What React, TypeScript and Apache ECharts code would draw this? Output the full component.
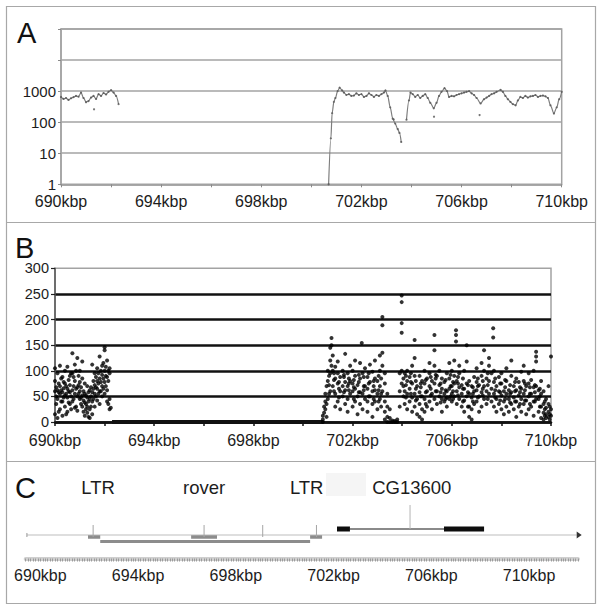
import React, { useEffect, useRef } from 'react';
import * as echarts from 'echarts';

const FONT = '"Liberation Sans", Arial, Helvetica, sans-serif';

// ---------- Panel A: read depth (log scale) ----------
const aLeftPos = [690.0, 690.1, 690.2, 690.3, 690.4, 690.5, 690.6, 690.7, 690.8, 690.9, 691.0, 691.1, 691.2, 691.3, 691.4, 691.5, 691.6, 691.7, 691.8, 691.9, 692.0, 692.1, 692.2, 692.3];
const aLeftVal = [650, 560, 600, 520, 590, 640, 700, 660, 900, 600, 440, 480, 620, 700, 560, 800, 700, 870, 780, 950, 1080, 900, 700, 380];

const aMidPos = [700.69, 700.78, 700.83, 700.9, 700.96, 701.05, 701.13, 701.23, 701.3, 701.4, 701.5, 701.6, 701.7, 701.8, 701.9, 702.0, 702.1, 702.2, 702.3, 702.4, 702.5, 702.6, 702.7, 702.8, 702.9, 702.96, 703.05, 703.15, 703.25, 703.35, 703.45, 703.52, 703.59];
const aMidVal = [1, 30, 195, 450, 600, 1000, 1300, 1050, 900, 750, 800, 700, 720, 850, 750, 800, 650, 700, 850, 750, 650, 750, 700, 800, 900, 1050, 700, 300, 130, 90, 60, 45, 23];

const aRightPos = [703.8, 703.9, 703.96, 704.05, 704.15, 704.25, 704.35, 704.45, 704.55, 704.65, 704.75, 704.89, 705.0, 705.1, 705.2, 705.32, 705.42, 705.5, 705.6, 705.7, 705.8, 705.9, 706.0, 706.1, 706.2, 706.3, 706.4, 706.5, 706.6, 706.76, 706.9, 707.0, 707.1, 707.2, 707.3, 707.4, 707.56, 707.65, 707.75, 707.85, 707.95, 708.05, 708.16, 708.25, 708.35, 708.45, 708.55, 708.65, 708.75, 708.85, 708.95, 709.05, 709.15, 709.25, 709.35, 709.45, 709.55, 709.69, 709.8, 709.9, 710.0];
const aRightVal = [120, 500, 900, 800, 650, 750, 600, 700, 800, 600, 420, 280, 420, 700, 950, 1250, 1000, 650, 700, 680, 750, 800, 850, 900, 950, 1000, 850, 750, 600, 400, 550, 620, 700, 800, 850, 950, 1100, 950, 700, 550, 450, 380, 350, 500, 650, 600, 700, 620, 680, 700, 750, 650, 700, 720, 680, 600, 350, 190, 300, 550, 950];

const aStrayPos = [691.32, 703.29, 704.9, 706.72];
const aStrayVal = [260, 123, 150, 170];

const aLogLabels = [1, 10, 100, 1000];
const kbpLabels = [690, 694, 698, 702, 706, 710];

// ---------- Panel B: coverage scatter, rows = [position, values...] ----------
const bLeft: number[][] = [
  [690.0, 15, 60, 80, 105], [690.1, 8, 45, 62, 95], [690.2, 25, 55, 70, 110], [690.3, 12, 40, 58, 88],
  [690.4, 30, 52, 75, 100], [690.5, 20, 48, 65, 108], [690.6, 35, 58, 72, 90], [690.7, 40, 62, 95, 134],
  [690.8, 28, 55, 80, 112], [690.9, 22, 50, 68, 125], [691.0, 45, 60, 78, 100], [691.1, 30, 52, 85, 118],
  [691.2, 12, 38, 55, 75], [691.3, 18, 30, 48, 70], [691.4, 8, 25, 45, 62], [691.5, 15, 40, 58, 112],
  [691.6, 30, 55, 72, 95], [691.7, 42, 65, 80, 105], [691.8, 35, 60, 85, 128], [691.9, 50, 70, 92, 110],
  [692.0, 55, 78, 100, 140, 146], [692.1, 40, 62, 88, 120], [692.2, 25, 45, 95, 105], [692.25, 28],
  [690.05, 35, 50, 68], [690.15, 20, 58, 75], [690.25, 40, 62, 85], [690.35, 48, 66, 78],
  [690.45, 15, 55, 70], [690.55, 38, 60, 82], [690.65, 25, 50, 95], [690.75, 45, 70, 88],
  [690.85, 30, 65, 100], [690.95, 55, 72, 90], [691.05, 35, 48, 68], [691.15, 20, 42, 60],
  [691.25, 25, 35, 52], [691.35, 10, 40, 58], [691.45, 30, 50, 68], [691.55, 45, 65, 80],
  [691.65, 50, 68, 88], [691.75, 55, 75, 95], [691.85, 60, 78, 100], [691.95, 65, 85, 115],
  [692.05, 70, 90, 108], [692.15, 35, 80, 100],
];
const bRight: number[][] = [
  [700.8, 0, 5, 12], [700.85, 18, 30], [700.9, 25, 40, 55], [700.95, 10, 35, 70], [701.0, 45, 80, 100],
  [701.1, 60, 95, 120, 145], [701.15, 110, 150, 164], [701.2, 70, 100, 130], [701.3, 30, 55, 85, 108],
  [701.4, 40, 75, 95, 118], [701.5, 25, 60, 88], [701.6, 50, 70, 100], [701.7, 35, 62, 78, 133],
  [701.8, 20, 45, 70, 95], [701.9, 55, 80, 110], [702.0, 30, 60, 75, 100], [702.1, 40, 65, 90, 120],
  [702.2, 15, 50, 72], [702.3, 35, 58, 85, 115], [702.37, 154], [702.4, 25, 55, 95], [702.5, 45, 70, 105],
  [702.6, 20, 40, 65, 88], [702.7, 50, 78, 112], [702.8, 10, 35, 60, 98], [702.9, 40, 62, 85, 120],
  [703.0, 25, 55, 80], [703.1, 45, 70, 100, 130], [703.2, 60, 110, 135, 189, 205], [703.3, 5, 20, 40, 75, 95],
  [703.4, 0, 10, 30, 55], [703.5, 0, 8, 25], [703.6, 0, 3], [703.7, 0, 2], [703.8, 0, 5],
  [703.9, 30, 60, 95], [703.98, 75, 100, 174, 193, 234, 247], [704.05, 50, 70, 85], [704.1, 35, 60, 95],
  [704.2, 25, 55, 80, 100], [704.3, 40, 65, 88], [704.4, 20, 48, 75, 110], [704.5, 30, 55, 90, 125, 160],
  [704.6, 15, 45, 70], [704.7, 10, 35, 58, 90], [704.8, 5, 25, 50, 80], [704.9, 20, 45, 75, 100],
  [705.0, 30, 60, 85], [705.1, 40, 70, 95, 115], [705.2, 25, 55, 80], [705.3, 45, 75, 110, 140, 170],
  [705.4, 35, 60, 90], [705.5, 50, 72, 100], [705.6, 20, 45, 65, 85], [705.7, 40, 55, 78],
  [705.8, 30, 48, 60, 95], [705.9, 45, 65, 85, 115], [706.0, 40, 55, 70, 100], [706.1, 50, 75, 90, 120],
  [706.17, 157, 170, 179], [706.2, 35, 60, 80], [706.3, 45, 68, 95, 110], [706.4, 30, 55, 72],
  [706.5, 20, 42, 65, 100], [706.6, 50, 75, 118, 150], [706.7, 10, 30, 55, 80], [706.8, 5, 25, 48, 70],
  [706.9, 35, 60, 88], [707.0, 40, 62, 78, 105], [707.1, 20, 50, 72], [707.2, 30, 58, 90, 115],
  [707.3, 45, 70, 100, 140], [707.4, 35, 60, 85], [707.5, 55, 80, 110, 125], [707.6, 40, 65, 95],
  [707.67, 165, 183], [707.7, 30, 55, 78, 100], [707.8, 20, 45, 70], [707.9, 35, 60, 88],
  [708.0, 25, 52, 75, 95], [708.1, 15, 40, 60], [708.2, 30, 55, 80, 105], [708.3, 20, 45, 62],
  [708.4, 35, 58, 90, 120], [708.5, 25, 48, 70], [708.6, 10, 40, 62, 85], [708.7, 30, 52, 78],
  [708.8, 20, 45, 65, 98], [708.9, 35, 55, 80, 110], [709.0, 15, 42, 70], [709.1, 25, 50, 75, 95],
  [709.2, 30, 55, 82], [709.3, 12, 40, 68, 100], [709.4, 45, 70, 118, 128, 137], [709.5, 20, 45, 62],
  [709.6, 8, 30, 55, 80], [709.7, 5, 18, 35, 60], [709.8, 8, 15, 28, 45], [709.9, 10, 20, 35, 70],
  [710.0, 12, 25, 128],
  [701.05, 55, 72, 90], [701.25, 60, 82, 95], [701.45, 48, 65, 78], [701.65, 58, 88, 92],
  [701.85, 62, 75, 85], [702.05, 45, 68, 82], [702.25, 58, 78, 92], [702.45, 62, 70, 88],
  [702.65, 50, 75, 95], [702.85, 45, 70, 80], [703.05, 40, 62, 90], [703.15, 30, 55, 85],
  [704.15, 48, 72, 90], [704.35, 55, 78, 95], [704.55, 42, 65, 80], [704.75, 50, 68, 75],
  [704.95, 35, 58, 82], [705.15, 52, 65, 88], [705.35, 60, 85, 92], [705.55, 38, 58, 75],
  [705.75, 45, 62, 82], [705.95, 50, 70, 92], [706.05, 45, 60, 78], [706.25, 52, 75, 88],
  [706.45, 40, 65, 85], [706.65, 30, 58, 72], [706.85, 40, 55, 68], [707.05, 48, 70, 85],
  [707.25, 52, 65, 80], [707.45, 45, 72, 95], [707.75, 48, 62, 85], [707.95, 42, 58, 75],
  [708.15, 45, 68, 82], [708.35, 38, 55, 72], [708.55, 40, 60, 78], [708.75, 35, 58, 68],
  [708.95, 42, 62, 75], [709.15, 35, 55, 68], [709.35, 40, 58, 72], [709.55, 30, 50, 65],
  [709.75, 12, 25, 40], [709.95, 5, 15, 30],
];
const bZeroSpan = [692.3, 700.8];

// ---------- Panel C: annotation track ----------
const cScaffold = [689.45, 711.95];
const cTeNames = ['LTR', 'rover', 'LTR'];
const cTeLabelPos = [692.36, 696.7, 700.9];
const cTeStart = [691.95, 696.17, 701.04];
const cTeEnd = [692.45, 697.23, 701.53];
const cRoverBody = [692.45, 701.04];
const cTeTicks = [692.16, 696.7, 699.1, 701.3];
const cGeneName = 'CG13600';
const cGeneLabelPos = 705.2;
const cExonStart = [702.14, 706.52];
const cExonEnd = [702.67, 708.16];
const cGeneTick = 705.13;

// lane offsets (px below the track top)
const LANE = { label: 17, geneTickTop: 35, gene: 59, teTickTop: 55, scaffold: 65, te: 67, body: 71.5 };

const zip = (xs: number[], ys: number[]) => xs.map((x, i) => [x, ys[i]]);
const flatRows = (rows: number[][]) => rows.flatMap((r) => r.slice(1).map((v) => [r[0], v]));
const kbpFmt = (v: number) => {
  const r = Math.round(v * 10) / 10;
  return kbpLabels.includes(r) ? `${r}kbp` : '';
};

function rectBetween(api: any, x0: number, x1: number, yc: number, h: number, fill: string) {
  const p0 = api.coord([x0, yc]);
  const p1 = api.coord([x1, yc]);
  return { type: 'rect', shape: { x: p0[0], y: p0[1] - h / 2, width: p1[0] - p0[0], height: h }, style: { fill } };
}
function vline(api: any, x: number, y0: number, y1: number, stroke: string, w = 1) {
  const p0 = api.coord([x, y0]);
  const p1 = api.coord([x, y1]);
  return { type: 'line', shape: { x1: p0[0], y1: p0[1], x2: p1[0], y2: p1[1] }, style: { stroke, lineWidth: w } };
}
function hline(api: any, x0: number, x1: number, y: number, stroke: string, w = 1) {
  const p0 = api.coord([x0, y]);
  const p1 = api.coord([x1, y]);
  return { type: 'line', shape: { x1: p0[0], y1: p0[1], x2: p1[0], y2: p1[1] }, style: { stroke, lineWidth: w } };
}

const cBase = { type: 'custom', coordinateSystem: 'cartesian2d', xAxisIndex: 2, yAxisIndex: 2, clip: false, silent: true, z: 3 };

export default function App() {
  const ref = useRef<HTMLDivElement>(null);
  useEffect(() => {
    const chart = echarts.init(ref.current!, null, { renderer: 'svg' });
    const txt = '#1c1c1c';
    const option: any = {
      animation: false,
      backgroundColor: '#fff',
      textStyle: { fontFamily: FONT },
      grid: [
        { left: 61, right: 40.3, top: 29, bottom: 425.7, show: true, borderColor: '#a3a3a3', borderWidth: 1.5 },
        { left: 55, right: 51, top: 268.3, bottom: 188, show: true, borderColor: '#a3a3a3', borderWidth: 1.5 },
        { left: 25.7, right: 24.1, top: 470, bottom: 51.5 },
      ],
      xAxis: [
        {
          gridIndex: 0, type: 'value', min: 690, max: 710, interval: 2,
          axisLine: { lineStyle: { color: '#a3a3a3', width: 1.5 } },
          axisTick: { show: true, length: 3, lineStyle: { color: '#8a8a8a' } },
          axisLabel: { formatter: kbpFmt, fontSize: 16, color: txt, fontFamily: FONT, margin: 9 },
          splitLine: { show: false },
        },
        {
          gridIndex: 1, type: 'value', min: 690, max: 710, interval: 2,
          axisLine: { lineStyle: { color: '#111', width: 2.5 } },
          axisTick: { show: true, length: 4, lineStyle: { color: '#111', width: 1.5 } },
          axisLabel: { formatter: kbpFmt, fontSize: 16, color: txt, fontFamily: FONT, margin: 10 },
          splitLine: { show: false },
        },
        {
          gridIndex: 2, type: 'value', min: 689.4, max: 712, interval: 0.1, position: 'bottom',
          axisLine: { onZero: false, lineStyle: { color: '#cfcfcf', width: 4 } },
          axisTick: { show: true, length: 3, lineStyle: { color: '#9c9c9c', width: 1 } },
          axisLabel: { formatter: kbpFmt, fontSize: 16, color: txt, fontFamily: FONT, margin: 9 },
          splitLine: { show: false },
        },
      ],
      yAxis: [
        {
          gridIndex: 0, type: 'log', logBase: 10, min: 1, max: 100000,
          axisLine: { show: true, lineStyle: { color: '#a3a3a3', width: 1.5 } },
          axisTick: { show: true, length: 3, lineStyle: { color: '#8a8a8a' } },
          axisLabel: {
            formatter: (v: number) => (aLogLabels.includes(Math.round(v)) ? String(Math.round(v)) : ''),
            fontSize: 15, color: txt, fontFamily: FONT, margin: 5,
          },
          splitLine: { show: true, lineStyle: { color: '#a3a3a3', width: 1.5 } },
        },
        {
          gridIndex: 1, type: 'value', min: 0, max: 300, interval: 50,
          axisLine: { show: true, lineStyle: { color: '#555', width: 1.5 } },
          axisTick: { show: true, length: 4, lineStyle: { color: '#222', width: 1.2 } },
          axisLabel: { fontSize: 14.5, color: txt, fontFamily: FONT, margin: 6 },
          splitLine: { show: true, showMaxLine: false, lineStyle: { color: '#111', width: 2.5 } },
        },
        { gridIndex: 2, type: 'value', min: 0, max: 88.5, inverse: true, show: false },
      ],
      series: [
        // Panel A
        ...[zip(aLeftPos, aLeftVal), zip(aMidPos, aMidVal), zip(aRightPos, aRightVal)].map((d) => ({
          type: 'line', xAxisIndex: 0, yAxisIndex: 0, data: d, showSymbol: false, smooth: 0.3,
          smoothMonotone: 'x', lineStyle: { color: '#7d7d7d', width: 1.2 }, silent: true, z: 3,
        })),
        {
          type: 'scatter', xAxisIndex: 0, yAxisIndex: 0, symbolSize: 2.2,
          data: [...zip(aLeftPos, aLeftVal), ...zip(aMidPos, aMidVal), ...zip(aRightPos, aRightVal), ...zip(aStrayPos, aStrayVal)],
          itemStyle: { color: '#555' }, silent: true, z: 4,
        },
        // Panel B
        {
          type: 'line', xAxisIndex: 1, yAxisIndex: 1, data: [[bZeroSpan[0], 0], [bZeroSpan[1], 0]],
          showSymbol: false, lineStyle: { color: '#111', width: 4 }, silent: true, z: 3,
        },
        {
          type: 'scatter', xAxisIndex: 1, yAxisIndex: 1, symbolSize: 4,
          data: [...flatRows(bLeft), ...flatRows(bRight)],
          itemStyle: { color: '#000' }, silent: true, z: 4,
        },
        // Panel C: scaffold line with arrow
        {
          ...cBase, data: [cScaffold],
          renderItem: (_p: any, api: any) => {
            const end = api.coord([api.value(1), LANE.scaffold]);
            return {
              type: 'group',
              children: [
                hline(api, api.value(0), api.value(1), LANE.scaffold, '#bdbdbd', 1.2),
                vline(api, api.value(0), LANE.scaffold - 2, LANE.scaffold + 2, '#999', 1),
                {
                  type: 'polygon',
                  shape: { points: [[end[0], end[1] - 3.5], [end[0] + 5, end[1]], [end[0], end[1] + 3.5]] },
                  style: { fill: '#333' },
                },
              ],
            };
          },
        },
        // rover body
        {
          ...cBase, data: [cRoverBody],
          renderItem: (_p: any, api: any) => rectBetween(api, api.value(0), api.value(1), LANE.body, 3, '#8c8c8c'),
        },
        // TE boxes
        {
          ...cBase, data: zip(cTeStart, cTeEnd),
          renderItem: (_p: any, api: any) => rectBetween(api, api.value(0), api.value(1), LANE.te, 3.5, '#8c8c8c'),
        },
        // TE ticks
        {
          ...cBase, data: cTeTicks.map((t) => [t]),
          renderItem: (_p: any, api: any) => vline(api, api.value(0), LANE.teTickTop, LANE.te, '#a5a5a5', 1),
        },
        // gene intron + tick
        {
          ...cBase, data: [[cExonEnd[0], cExonStart[1], cGeneTick]],
          renderItem: (_p: any, api: any) => ({
            type: 'group',
            children: [
              hline(api, api.value(0), api.value(1), LANE.gene, '#8a8a8a', 2),
              vline(api, api.value(2), LANE.geneTickTop, LANE.gene, '#b5b5b5', 1),
            ],
          }),
        },
        // exons
        {
          ...cBase, data: zip(cExonStart, cExonEnd),
          renderItem: (_p: any, api: any) => rectBetween(api, api.value(0), api.value(1), LANE.gene, 5, '#0d0d0d'),
        },
        // labels
        {
          ...cBase, data: [...cTeLabelPos.map((p) => [p]), [cGeneLabelPos]],
          renderItem: (p: any, api: any) => {
            const pt = api.coord([api.value(0), LANE.label]);
            const name = p.dataIndex < cTeNames.length ? cTeNames[p.dataIndex] : cGeneName;
            return {
              type: 'text', x: pt[0], y: pt[1],
              style: { text: name, fill: '#1c1c1c', font: `18.5px ${FONT}`, textAlign: 'center', textVerticalAlign: 'middle' },
            };
          },
        },
      ],
      graphic: [
        { type: 'rect', z: 0, shape: { x: 6.5, y: 6.5, width: 589, height: 597 }, style: { fill: 'none', stroke: '#a8a8a8', lineWidth: 1.2 } },
        { type: 'line', z: 0, shape: { x1: 6.5, y1: 222.5, x2: 595.5, y2: 222.5 }, style: { stroke: '#a8a8a8', lineWidth: 1.2 } },
        { type: 'line', z: 0, shape: { x1: 6.5, y1: 461.5, x2: 595.5, y2: 461.5 }, style: { stroke: '#a8a8a8', lineWidth: 1.2 } },
        { type: 'rect', z: 0, shape: { x: 326, y: 473, width: 40, height: 23 }, style: { fill: '#f5f5f5' } },
        { type: 'text', z: 5, x: 17, y: 33, style: { text: 'A', fill: '#111', font: `29px ${FONT}`, textAlign: 'left', textVerticalAlign: 'middle' } },
        { type: 'text', z: 5, x: 15, y: 248, style: { text: 'B', fill: '#111', font: `29px ${FONT}`, textAlign: 'left', textVerticalAlign: 'middle' } },
        { type: 'text', z: 5, x: 15, y: 488, style: { text: 'C', fill: '#111', font: `29px ${FONT}`, textAlign: 'left', textVerticalAlign: 'middle' } },
      ],
    };
    chart.setOption(option);
    return () => chart.dispose();
  }, []);
  return (
    <div
      ref={ref}
      style={{ position: 'fixed', left: 0, top: 0, width: 602, height: 610, background: '#fff' }}
    />
  );
}
